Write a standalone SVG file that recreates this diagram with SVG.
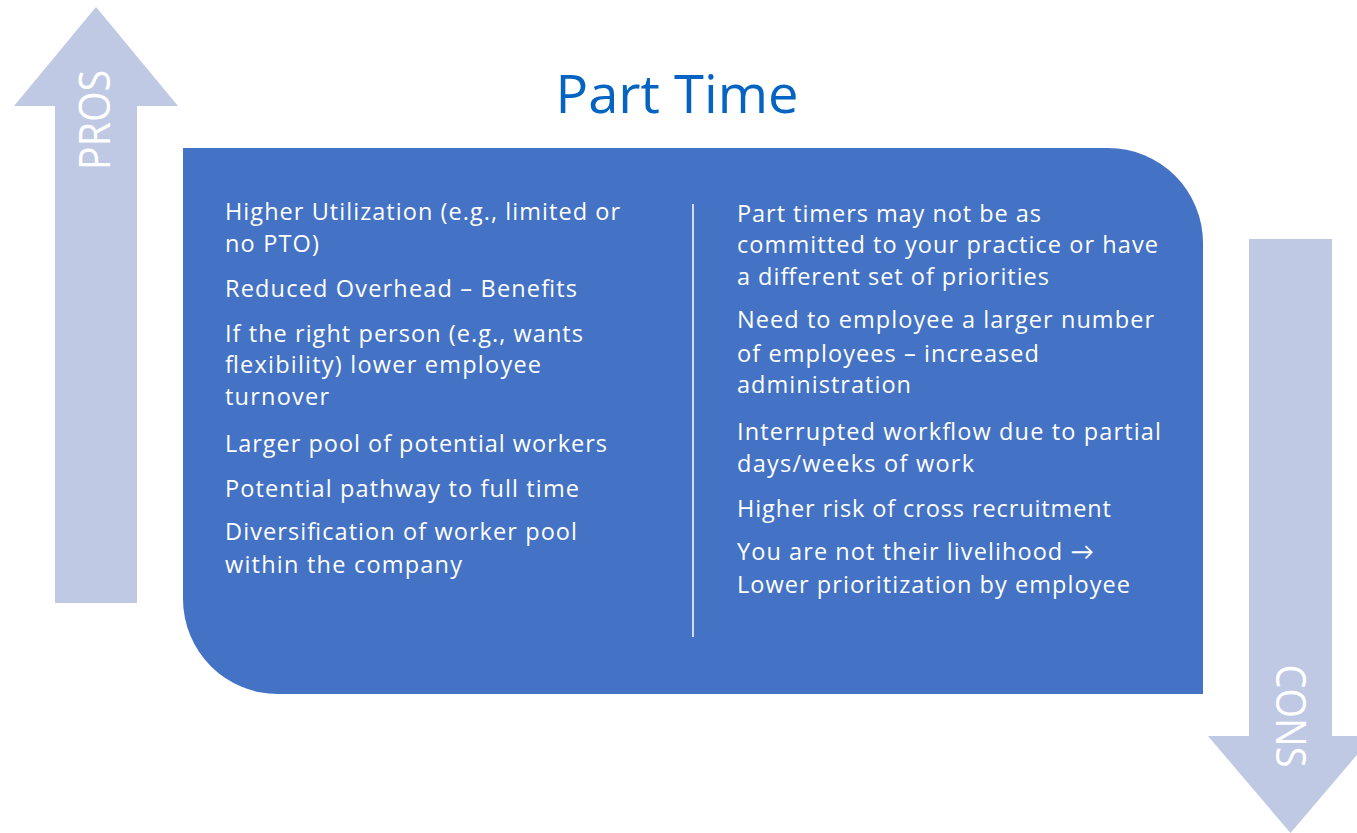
<svg xmlns="http://www.w3.org/2000/svg" width="1357" height="833" viewBox="0 0 1357 833">
<style>
.arrow{fill:#BFC9E4;}
.lbl{font-family:"Open Sans",Lato,"Liberation Sans",sans-serif;fill:#FFFFFF;text-anchor:middle;}
.body{font-family:"Open Sans",Lato,"Liberation Sans",sans-serif;font-size:23.5px;fill:#FFFFFF;}
.title{font-family:"Open Sans",Lato,"Liberation Sans",sans-serif;font-size:53px;fill:#0563C1;text-anchor:middle;}
</style>
<rect width="1357" height="833" fill="#FFFFFF"/>
<g id="pros-arrow">
<polygon class="arrow" points="96,7 178,106 137,106 137,603 55,603 55,106 14,106"/>
<text class="lbl" font-size="43" textLength="100" lengthAdjust="spacingAndGlyphs" transform="translate(110,120) rotate(-90)">PROS</text>
</g>
<g id="cons-arrow">
<polygon class="arrow" points="1249,239 1332,239 1332,736 1373,736 1290.5,833 1208,736 1249,736"/>
<text class="lbl" font-size="42" textLength="103" lengthAdjust="spacingAndGlyphs" transform="translate(1276,716) rotate(90)">CONS</text>
</g>
<g id="title">
<text class="title" x="677" y="113" textLength="243" lengthAdjust="spacingAndGlyphs">Part Time</text>
</g>
<g id="panel">
<path d="M183,148 H1108 A95,95 0 0 1 1203,243 V694 H278 A95,95 0 0 1 183,599 Z" fill="#4472C4"/>
</g>
<g id="connectors">
<line x1="693" y1="204" x2="693" y2="637" stroke="#D3DAEC" stroke-width="2"/>
</g>
<g id="pros-list" class="body">
<text x="225" y="220" textLength="395">Higher Utilization (e.g., limited or</text>
<text x="225" y="252" textLength="94">no PTO)</text>
<text x="225" y="297" textLength="352">Reduced Overhead – Benefits</text>
<text x="225" y="342" textLength="358">If the right person (e.g., wants</text>
<text x="225" y="373" textLength="316">flexibility) lower employee</text>
<text x="225" y="405" textLength="104">turnover</text>
<text x="225" y="452" textLength="382">Larger pool of potential workers</text>
<text x="225" y="497" textLength="354">Potential pathway to full time</text>
<text x="225" y="540" textLength="352">Diversification of worker pool</text>
<text x="225" y="573" textLength="237">within the company</text>
</g>
<g id="cons-list" class="body">
<text x="737" y="222" textLength="304">Part timers may not be as</text>
<text x="737" y="253" textLength="421">committed to your practice or have</text>
<text x="737" y="285" textLength="312">a different set of priorities</text>
<text x="737" y="328" textLength="417">Need to employee a larger number</text>
<text x="737" y="362" textLength="302">of employees – increased</text>
<text x="737" y="393" textLength="174">administration</text>
<text x="737" y="440" textLength="424">Interrupted workflow due to partial</text>
<text x="737" y="472" textLength="237">days/weeks of work</text>
<text x="737" y="517" textLength="374">Higher risk of cross recruitment</text>
<text x="737" y="560" textLength="357">You are not their livelihood →</text>
<text x="737" y="593" textLength="393">Lower prioritization by employee</text>
</g>
</svg>
